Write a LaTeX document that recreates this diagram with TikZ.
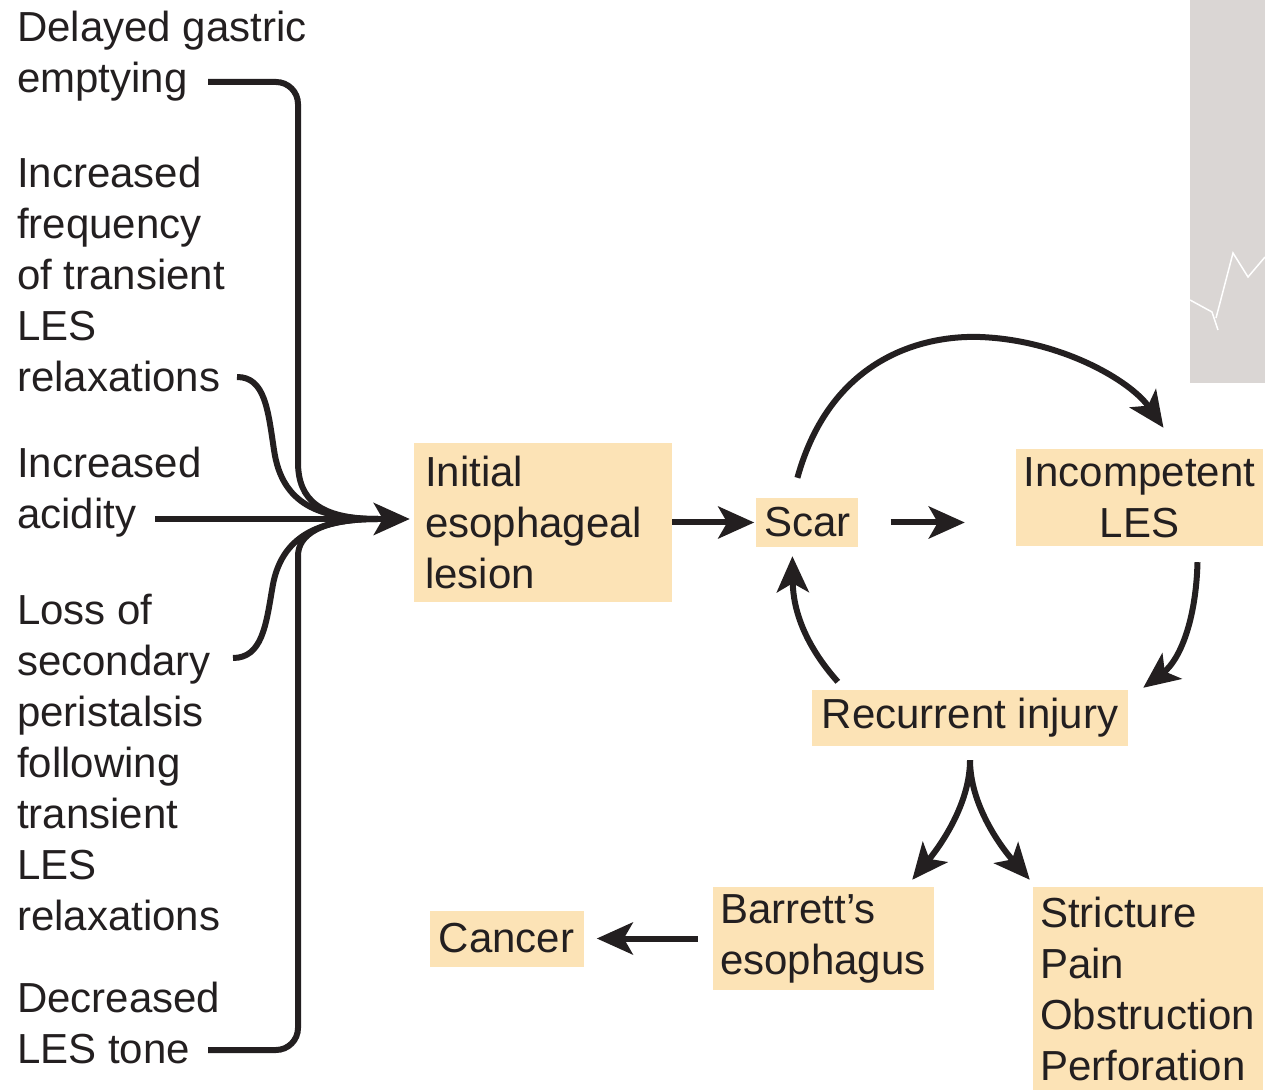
\documentclass[tikz,border=0pt]{standalone}
\usepackage{fontspec}
\setmainfont{Liberation Sans}
\usetikzlibrary{positioning,arrows.meta}
\definecolor{boxfill}{RGB}{252,227,182}
\definecolor{ink}{RGB}{35,31,32}
\definecolor{panel}{RGB}{218,214,212}

\begin{document}
\begin{tikzpicture}[x=1pt, y=1pt,
		txt/.style={anchor=north west, align=left, inner sep=0pt, text=ink},
		box/.style={fill=boxfill, inner sep=0pt, text=ink},
		feed/.style={draw=ink, line width=6pt},
		arr/.style={draw=ink, line width=6pt, -{Stealth[length=36pt, width=32pt, inset=9pt]}},
		font=\fontsize{42}{51}\selectfont]
		\useasboundingbox (0,0) rectangle (1265,1090);
		\fill[panel] (1190,707) rectangle (1265,1090);
		\draw[white, line width=1.5pt] (1190,790) -- (1212,778) -- (1218,760);
		\draw[white, line width=1.5pt] (1216,772) -- (1233,837) -- (1248,813) -- (1265,833);
		
		\node[txt] (delay) at (17,1079) {Delayed gastric\\emptying};
		\node[txt] (freq) at (17,933) {Increased\\frequency\\of transient\\LES\\relaxations};
		\node[txt] (acidity) at (17,643) {Increased\\acidity};
		\node[txt] (loss) at (17,496) {Loss of\\secondary\\peristalsis\\following\\transient\\LES\\relaxations};
		\node[txt] (tonus) at (17,108) {Decreased\\LES tone};
		
		\coordinate (emp) at (208,1008);
		\coordinate (relax) at (237,713);
		\coordinate (acid) at (155,571);
		\coordinate (second) at (233,432);
		\coordinate (tone) at (208,40);
		\coordinate (join) at (378,571);
		
		\node[box, minimum width=258pt, minimum height=159pt, text width=236pt, align=left] (lesion) at (543,567.5) {Initial\\esophageal\\lesion};
		\node[box, minimum width=102pt, minimum height=49pt, right=84pt of lesion] (scar) {Scar};
		\node[box, minimum width=247pt, minimum height=97pt, align=center] (incomp) at (1139.5,592.5) {Incompetent\\LES};
		\node[box, minimum width=316pt, minimum height=56pt] (recur) at (970,372) {Recurrent injury};
		\node[box, minimum width=221pt, minimum height=103pt, text width=207pt, align=left] (barrett) at (823.5,151.5) {Barrett’s\\esophagus};
		\node[box, minimum width=154pt, minimum height=56pt, left=129pt of barrett] (cancer) {Cancer};
		\node[box, minimum width=230pt, minimum height=203pt, text width=216pt, align=left] (stric) at (1148,101.5) {Stricture\\Pain\\Obstruction\\Perforation};
		
		\draw[feed, rounded corners=22pt] (emp) -- (298,1008) -- (298,650) .. controls (298,590) and (320,571) .. (join);
		\draw[feed] (relax) .. controls (265,713) and (268,680) .. (274,640) .. controls (282,585) and (320,571) .. (join);
		\draw[feed] (second) .. controls (262,432) and (266,465) .. (272,500) .. controls (280,555) and (320,571) .. (join);
		\draw[feed, rounded corners=22pt] (tone) -- (298,40) -- (298,512) .. controls (298,555) and (320,571) .. (join);
		\draw[arr, shorten >=4pt] (acid) -- (acid -| lesion.west);
		
		\draw[arr, shorten >=2pt] (lesion.east) -- (scar.west);
		\draw[arr, shorten <=32pt, shorten >=51pt] (scar.east) -- (scar.east -| incomp.west);
		\draw[arr] ([shift={(-10pt,20pt)}]scar.north) .. controls (830,730) and (920,755) .. (980,753) .. controls (1060,750) and (1130,710) .. ([shift={(24pt,21pt)}]incomp.north);
		\draw[arr] ([shift={(58pt,-16pt)}]incomp.south) .. controls (1196,470) and (1180,430) .. ([shift={(15pt,2pt)}]recur.north east);
		\draw[arr] ([shift={(26pt,8pt)}]recur.north west) .. controls (805,445) and (793,480) .. ([shift={(-15pt,-9pt)}]scar.south);
		\draw[arr] ([yshift=-14pt]recur.south) .. controls (970,290) and (945,250) .. ([shift={(-22pt,7pt)}]barrett.north east);
		\draw[arr] ([yshift=-14pt]recur.south) .. controls (970,290) and (995,250) .. ([shift={(-3pt,7pt)}]stric.north west);
		\draw[arr, shorten <=15pt, shorten >=13pt] (barrett.west) -- (cancer.east);
	\end{tikzpicture}
\end{document}
